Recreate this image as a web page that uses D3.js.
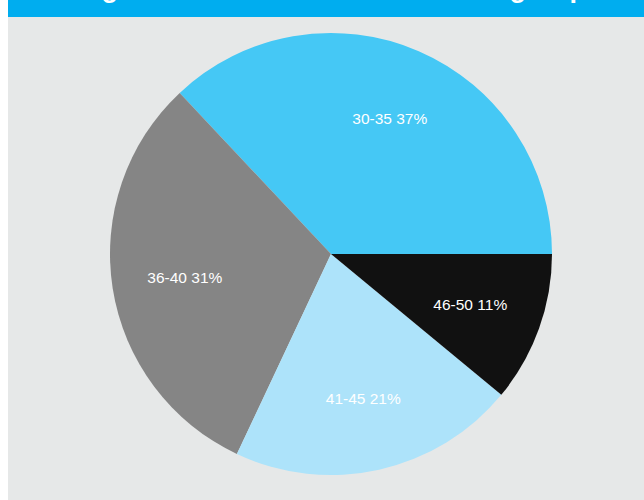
<!DOCTYPE html>
<html>
<head>
<meta charset="utf-8">
<script src="https://cdn.jsdelivr.net/npm/d3@7"></script>
<style>
  html, body { margin: 0; padding: 0; background: #ffffff; overflow: hidden; }
  #chart { position: absolute; left: 8px; top: 0; }
  text { font-family: "Liberation Sans", Arial, sans-serif; }
</style>
</head>
<body>
<div id="chart"></div>
<script>
const categories = ["30-35", "36-40", "41-45", "46-50"];
const values = [37, 31, 21, 11];
const colors = ["#45C8F5", "#858585", "#ADE3FA", "#111111"];
const titleText = "Age Distribution of the Research group";

const W = 636, H = 500;
const svg = d3.select("#chart").append("svg")
  .attr("width", W).attr("height", H);

// background panel and title band
svg.append("rect").attr("x", 0).attr("y", 0).attr("width", W).attr("height", H).attr("fill", "#E6E8E8");
svg.append("rect").attr("x", 0).attr("y", 0).attr("width", W).attr("height", 17).attr("fill", "#00ADEF");
svg.append("text")
  .attr("x", 74).attr("y", -3)
  .attr("fill", "#ffffff")
  .attr("font-size", 27).attr("font-weight", "bold")
  .text(titleText);

const cx = 323, cy = 254, R = 221;
const g = svg.append("g").attr("transform", `translate(${cx},${cy})`);

const data = categories.map((c, i) => ({ cat: c, value: values[i], color: colors[i] }));
const total = d3.sum(values);

const pie = d3.pie().sort(null).value(d => d.value)
  .startAngle(Math.PI / 2).endAngle(Math.PI / 2 - 2 * Math.PI);
const arcs = pie(data);

const arc = d3.arc().innerRadius(0).outerRadius(R);
const labelArc = d3.arc().innerRadius(148).outerRadius(148);

g.selectAll("path").data(arcs).join("path")
  .attr("d", arc)
  .attr("fill", d => d.data.color);

g.selectAll("text.lbl").data(arcs).join("text")
  .attr("class", "lbl")
  .attr("transform", d => `translate(${labelArc.centroid(d)})`)
  .attr("text-anchor", "middle")
  .attr("dy", "0.35em")
  .attr("fill", "#ffffff")
  .attr("font-size", 15.5)
  .text(d => `${d.data.cat} ${Math.round(d.data.value / total * 100)}%`);
</script>
</body>
</html>
